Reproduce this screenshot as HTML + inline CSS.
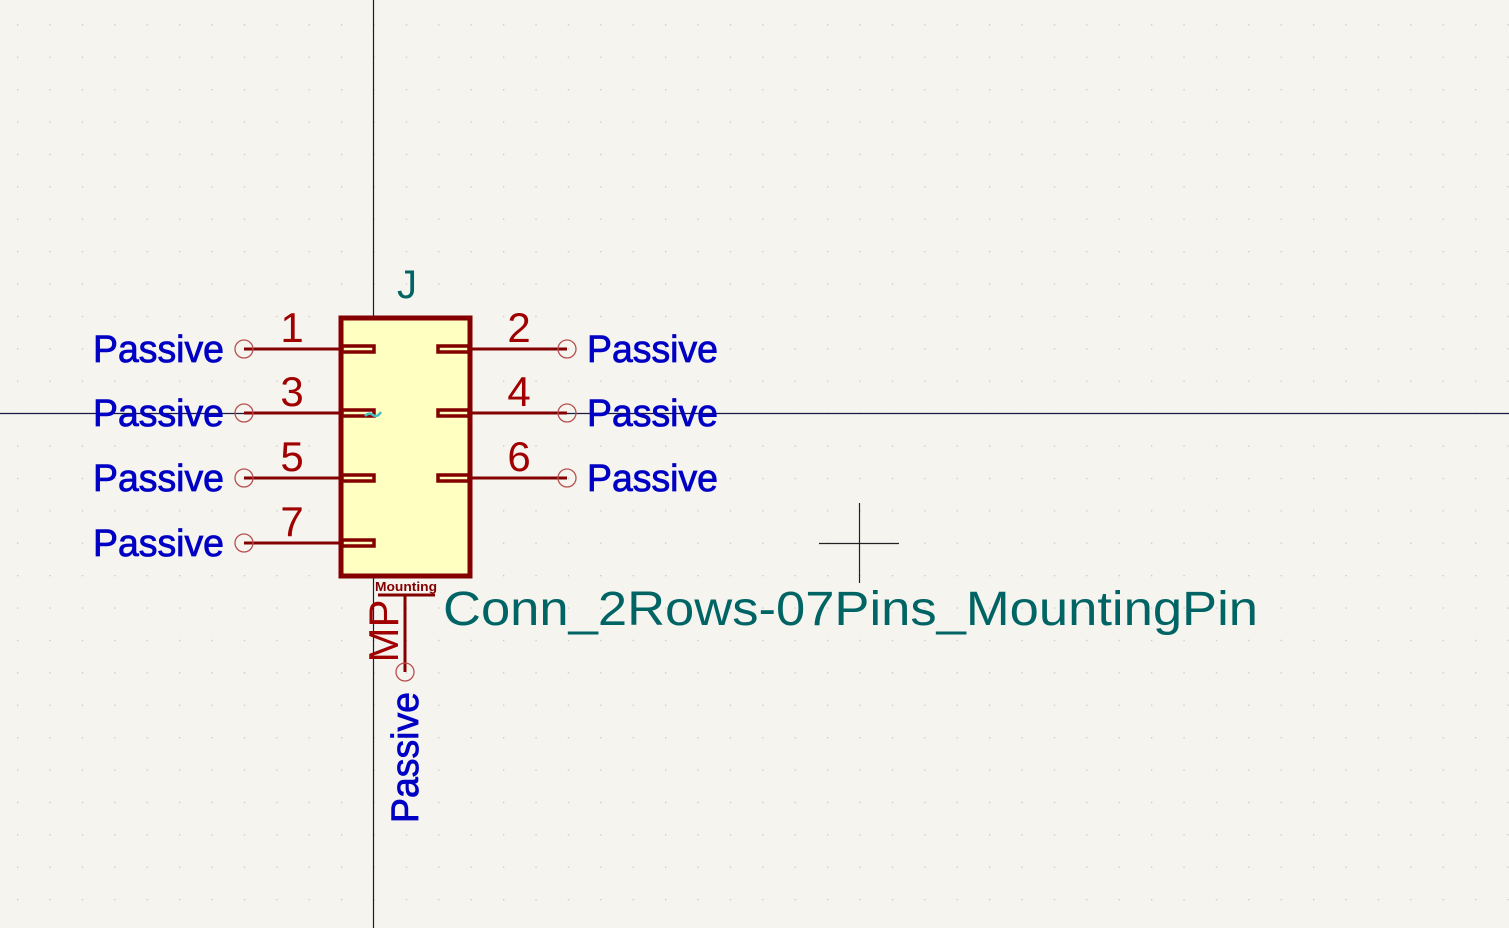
<!DOCTYPE html>
<html><head><meta charset="utf-8"><style>
html,body{margin:0;padding:0;background:#f5f4ef;}
svg{display:block;}
</style></head><body>
<svg width="1509" height="928" viewBox="0 0 1509 928" xmlns="http://www.w3.org/2000/svg">
<defs>
<pattern id="g" x="17" y="24.2" width="32.4" height="32.4" patternUnits="userSpaceOnUse">
<rect x="0" y="0" width="1.3" height="1.3" fill="#c8c8c4"/>
</pattern>
</defs>
<rect width="1509" height="928" fill="#f5f4ef"/>
<rect width="1509" height="928" fill="url(#g)"/>
<line x1="373.5" y1="0" x2="373.5" y2="928" stroke="#1a1a40" stroke-width="1.2"/>
<line x1="0" y1="413.5" x2="1509" y2="413.5" stroke="#1a1a40" stroke-width="1.2"/>
<!-- crosshair -->
<line x1="819" y1="543.5" x2="899" y2="543.5" stroke="#222" stroke-width="1.2"/>
<line x1="859.5" y1="503" x2="859.5" y2="583" stroke="#222" stroke-width="1.2"/>
<!-- body -->
<rect x="341" y="318" width="129" height="258" fill="#ffffc2" stroke="#840000" stroke-width="5"/>
<g stroke="#840000" stroke-width="3" fill="none">
<line x1="244" y1="349" x2="341" y2="349"/>
<line x1="244" y1="413" x2="341" y2="413"/>
<line x1="244" y1="478" x2="341" y2="478"/>
<line x1="244" y1="543" x2="341" y2="543"/>
<line x1="470" y1="349" x2="567" y2="349"/>
<line x1="470" y1="413" x2="567" y2="413"/>
<line x1="470" y1="478" x2="567" y2="478"/>
<line x1="405" y1="595" x2="405" y2="672"/>
<rect x="342" y="346" width="32" height="6" stroke-width="3.5"/>
<rect x="342" y="410" width="32" height="6" stroke-width="3.5"/>
<rect x="342" y="475" width="32" height="6" stroke-width="3.5"/>
<rect x="342" y="540" width="32" height="6" stroke-width="3.5"/>
<rect x="438" y="346" width="31" height="6" stroke-width="3.5"/>
<rect x="438" y="410" width="31" height="6" stroke-width="3.5"/>
<rect x="438" y="475" width="31" height="6" stroke-width="3.5"/>
<line x1="378" y1="595" x2="435" y2="595"/>
</g>
<g stroke="#b85050" stroke-width="1.3" fill="none">
<circle cx="244" cy="349" r="9"/><circle cx="244" cy="413" r="9"/><circle cx="244" cy="478" r="9"/><circle cx="244" cy="543" r="9"/>
<circle cx="567" cy="349" r="9"/><circle cx="567" cy="413" r="9"/><circle cx="567" cy="478" r="9"/>
<circle cx="405" cy="672" r="9"/>
</g>
<path d="M365 416 q4 -4 8 -1 q4 3 8 -3" stroke="#4bbdbd" stroke-width="2.5" fill="none"/>
<g font-family="Liberation Sans, sans-serif" font-size="38" fill="#0000c4" stroke="#0000c4" stroke-width="0.8">
<text x="93" y="362" textLength="131" lengthAdjust="spacingAndGlyphs">Passive</text>
<text x="93" y="426" textLength="131" lengthAdjust="spacingAndGlyphs">Passive</text>
<text x="93" y="491" textLength="131" lengthAdjust="spacingAndGlyphs">Passive</text>
<text x="93" y="556" textLength="131" lengthAdjust="spacingAndGlyphs">Passive</text>
<text x="587" y="362" textLength="131" lengthAdjust="spacingAndGlyphs">Passive</text>
<text x="587" y="426" textLength="131" lengthAdjust="spacingAndGlyphs">Passive</text>
<text x="587" y="491" textLength="131" lengthAdjust="spacingAndGlyphs">Passive</text>
<text transform="translate(418,823) rotate(-90)" x="0" y="0" textLength="131" lengthAdjust="spacingAndGlyphs">Passive</text>
</g>
<g font-family="Liberation Sans, sans-serif" font-size="42" fill="#a00000" text-anchor="middle">
<text x="292" y="342">1</text><text x="292" y="406">3</text><text x="292" y="471">5</text><text x="292" y="536">7</text>
<text x="519" y="342">2</text><text x="519" y="406">4</text><text x="519" y="471">6</text>
<text transform="translate(398,631) rotate(-90)" x="0" y="0">MP</text>
</g>
<text x="406" y="591" font-family="Liberation Sans, sans-serif" font-size="13" font-weight="bold" fill="#840000" text-anchor="middle" textLength="62" lengthAdjust="spacingAndGlyphs">Mounting</text>
<g font-family="Liberation Sans, sans-serif" fill="#006464">
<text x="397" y="298" font-size="40">J</text>
<text x="443" y="625" font-size="48" textLength="815" lengthAdjust="spacingAndGlyphs">Conn_2Rows-07Pins_MountingPin</text>
</g>
</svg>
</body></html>
